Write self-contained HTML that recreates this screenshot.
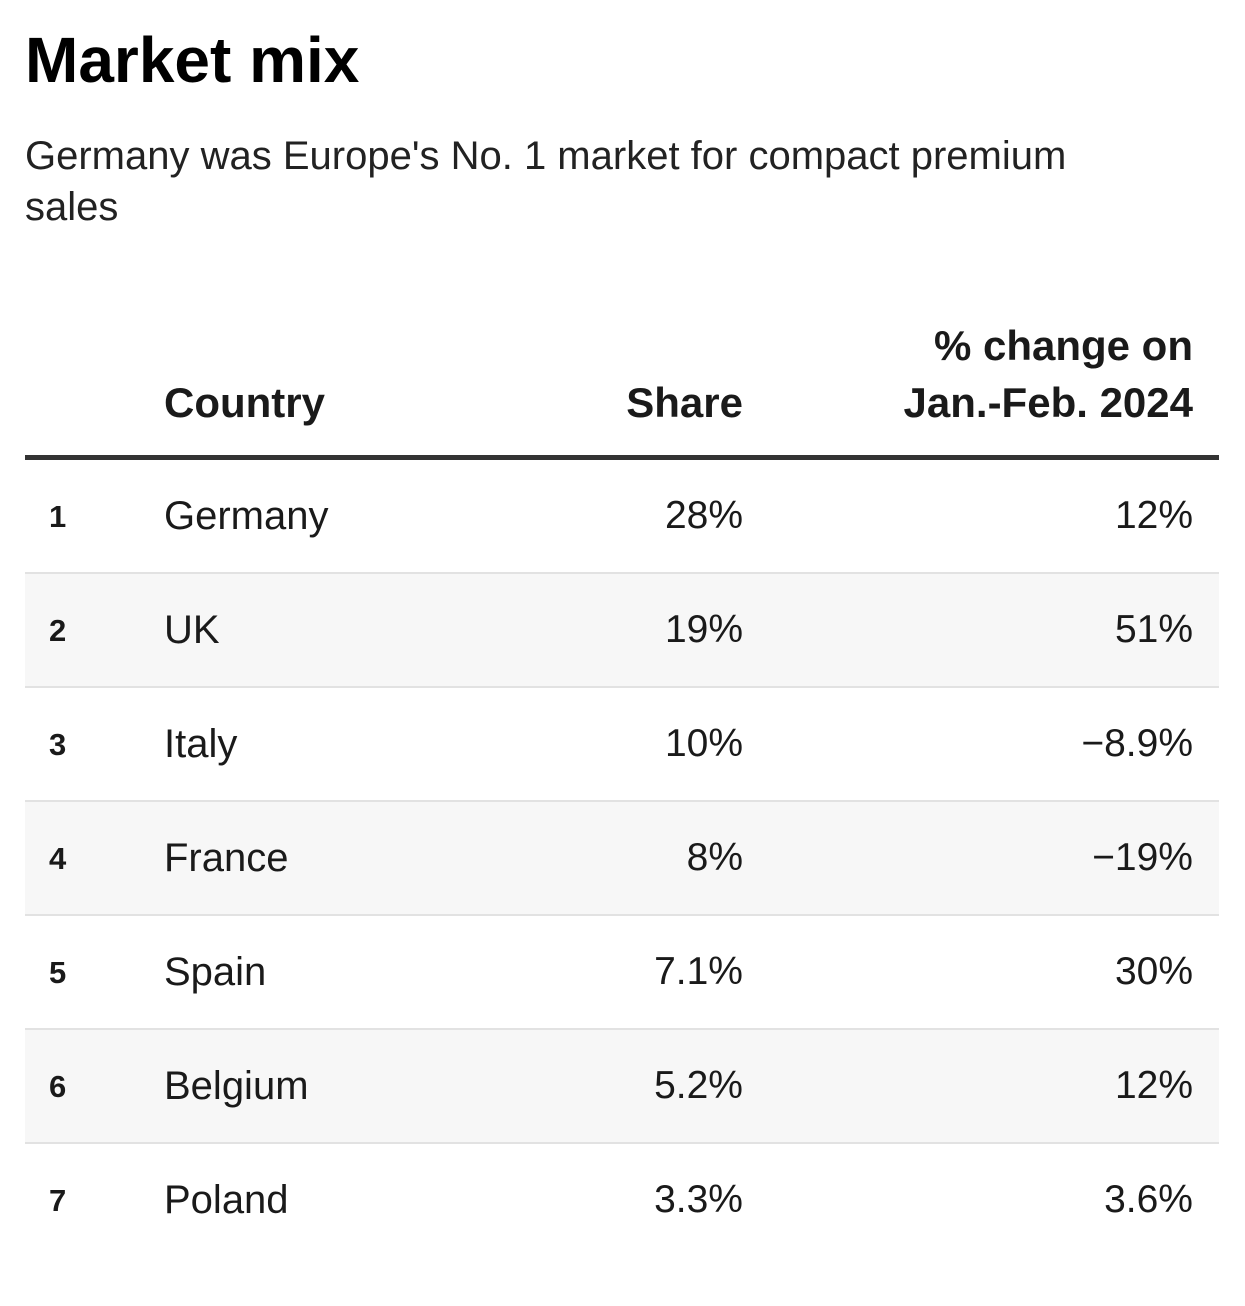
<!DOCTYPE html>
<html><head><meta charset="utf-8"><style>
body{margin:0;width:1245px;height:1306px;background:#fff;font-family:"Liberation Sans",sans-serif;color:#1a1a1a;position:relative;overflow:hidden}
.t{position:absolute;white-space:nowrap}
h1{position:absolute;left:25px;top:22px;margin:0;font-size:64px;font-weight:bold;color:#000;line-height:76px}
.sub{left:25px;top:131px;font-size:40px;line-height:51px;color:#222}
.hd{font-weight:bold;font-size:42px;line-height:57px;color:#1a1a1a}
.rule{position:absolute;left:25px;width:1194px;height:5px;top:455px;background:#333}
.row{position:absolute;left:25px;width:1194px;height:112px;border-bottom:2px solid #e2e2e2}
.row.alt{background:#f7f7f7}
.row.last{border-bottom:none}
.num{position:absolute;left:24px;top:37px;font-size:31px;font-weight:bold;line-height:40px}
.cty{position:absolute;left:139px;top:32px;font-size:40px;line-height:48px}
.sh{position:absolute;right:476px;top:32px;font-size:39px;line-height:48px}
.ch{position:absolute;right:26px;top:32px;font-size:39px;line-height:48px}
</style></head><body>
<h1>Market mix</h1>
<div class="t sub">Germany was Europe's No. 1 market for compact premium<br>sales</div>
<div class="t hd" style="left:164px;top:374px">Country</div>
<div class="t hd" style="right:502px;top:374px;text-align:right">Share</div>
<div class="t hd" style="right:52px;top:317px;text-align:right">% change on<br>Jan.-Feb. 2024</div>
<div class="rule"></div>
<div id="rows"></div>
<script>
const ranks=[1,2,3,4,5,6,7];
const countries=["Germany","UK","Italy","France","Spain","Belgium","Poland"];
const shares=["28%","19%","10%","8%","7.1%","5.2%","3.3%"];
const changes=["12%","51%","\u22128.9%","\u221219%","30%","12%","3.6%"];
const host=document.getElementById('rows');
countries.forEach((c,i)=>{
  const r=document.createElement('div');
  r.className='row'+(i%2?' alt':'')+(i===countries.length-1?' last':'');
  r.style.top=(460+i*114)+'px';
  
  
  const a=document.createElement('div');a.className='num';a.textContent=ranks[i];
  
  
  const b=document.createElement('div');b.className='cty';b.textContent=c;
  
  
  const s=document.createElement('div');s.className='sh';s.textContent=shares[i];
  
  
  const h=document.createElement('div');h.className='ch';h.textContent=changes[i];
  
  
  r.append(a,b,s,h);host.appendChild(r);
});
</script>
</body></html>
